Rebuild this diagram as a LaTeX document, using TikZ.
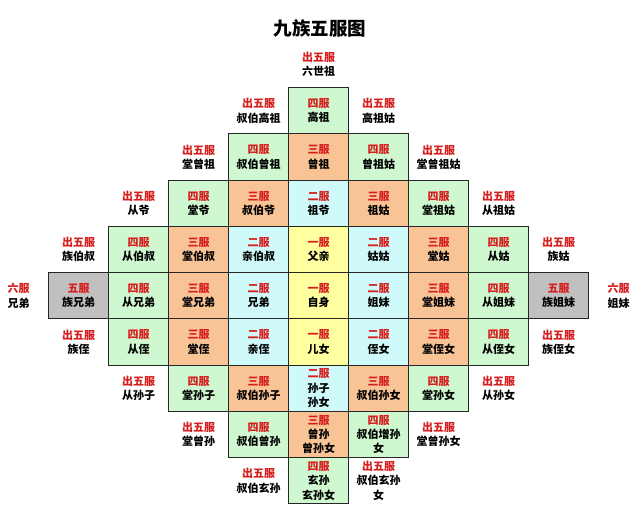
\documentclass[tikz,border=0pt]{standalone}
\usepackage{fontspec}
\newfontfamily\cjk{Noto Sans CJK SC}
\definecolor{fred}{RGB}{215,30,30}
\definecolor{cgreen}{RGB}{208,248,208}
\definecolor{corange}{RGB}{248,196,150}
\definecolor{cblue}{RGB}{208,250,250}
\definecolor{cyellow}{RGB}{255,255,160}
\definecolor{cgray}{RGB}{192,192,192}
\newcommand\cellnode[6]{\node[cell,fill=#4] (#1) at ({78.7+60*#2},{110.8+46.25*#3}) {\textcolor{fred}{#5}\\#6};}
\newcommand\freelab[5]{\node[lbl] (#1) at ({78.7+60*#2},{110.8+46.25*#3}) {\textcolor{fred}{#4}\\#5};}
\tikzset{
  cell/.style={draw=black!85, line width=1.1pt, minimum width=60pt, minimum height=46.25pt, inner sep=0pt, align=center, font=\cjk\bfseries\fontsize{11}{14.3}\selectfont},
  lbl/.style={inner sep=0pt, align=center, font=\cjk\bfseries\fontsize{11}{14.3}\selectfont},
}
\begin{document}
\begin{tikzpicture}[x=1pt,y=-1pt]
\useasboundingbox (0,0) rectangle (640,509);
\fill[white] (0,0) rectangle (640,509);
\node[inner sep=0pt, font=\cjk\bfseries\fontsize{18.5}{20}\selectfont] (title) at (320,28) {九族五服图};
% row -1
\freelab{l4m}{4}{-1}{出五服}{六世祖}
% row 0
\cellnode{c40}{4}{0}{cgreen}{四服}{高祖}
\freelab{l30}{3}{0}{出五服}{叔伯高祖}
\freelab{l50}{5}{0}{出五服}{高祖姑}
% row 1
\cellnode{c31}{3}{1}{cgreen}{四服}{叔伯曾祖}
\cellnode{c41}{4}{1}{corange}{三服}{曾祖}
\cellnode{c51}{5}{1}{cgreen}{四服}{曾祖姑}
\freelab{l21}{2}{1}{出五服}{堂曾祖}
\freelab{l61}{6}{1}{出五服}{堂曾祖姑}
% row 2
\cellnode{c22}{2}{2}{cgreen}{四服}{堂爷}
\cellnode{c32}{3}{2}{corange}{三服}{叔伯爷}
\cellnode{c42}{4}{2}{cblue}{二服}{祖爷}
\cellnode{c52}{5}{2}{corange}{三服}{祖姑}
\cellnode{c62}{6}{2}{cgreen}{四服}{堂祖姑}
\freelab{l12}{1}{2}{出五服}{从爷}
\freelab{l72}{7}{2}{出五服}{从祖姑}
% row 3
\cellnode{c13}{1}{3}{cgreen}{四服}{从伯叔}
\cellnode{c23}{2}{3}{corange}{三服}{堂伯叔}
\cellnode{c33}{3}{3}{cblue}{二服}{亲伯叔}
\cellnode{c43}{4}{3}{cyellow}{一服}{父亲}
\cellnode{c53}{5}{3}{cblue}{二服}{姑姑}
\cellnode{c63}{6}{3}{corange}{三服}{堂姑}
\cellnode{c73}{7}{3}{cgreen}{四服}{从姑}
\freelab{l03}{0}{3}{出五服}{族伯叔}
\freelab{l83}{8}{3}{出五服}{族姑}
% row 4
\cellnode{c04}{0}{4}{cgray}{五服}{族兄弟}
\cellnode{c14}{1}{4}{cgreen}{四服}{从兄弟}
\cellnode{c24}{2}{4}{corange}{三服}{堂兄弟}
\cellnode{c34}{3}{4}{cblue}{二服}{兄弟}
\cellnode{c44}{4}{4}{cyellow}{一服}{自身}
\cellnode{c54}{5}{4}{cblue}{二服}{姐妹}
\cellnode{c64}{6}{4}{corange}{三服}{堂姐妹}
\cellnode{c74}{7}{4}{cgreen}{四服}{从姐妹}
\cellnode{c84}{8}{4}{cgray}{五服}{族姐妹}
\freelab{lm4}{-1}{4}{六服}{兄弟}
\freelab{l94}{9}{4}{六服}{姐妹}
% row 5
\cellnode{c15}{1}{5}{cgreen}{四服}{从侄}
\cellnode{c25}{2}{5}{corange}{三服}{堂侄}
\cellnode{c35}{3}{5}{cblue}{二服}{亲侄}
\cellnode{c45}{4}{5}{cyellow}{一服}{儿女}
\cellnode{c55}{5}{5}{cblue}{二服}{侄女}
\cellnode{c65}{6}{5}{corange}{三服}{堂侄女}
\cellnode{c75}{7}{5}{cgreen}{四服}{从侄女}
\freelab{l05}{0}{5}{出五服}{族侄}
\freelab{l85}{8}{5}{出五服}{族侄女}
% row 6
\cellnode{c26}{2}{6}{cgreen}{四服}{堂孙子}
\cellnode{c36}{3}{6}{corange}{三服}{叔伯孙子}
\cellnode{c46}{4}{6}{cblue}{二服}{孙子\\孙女}
\cellnode{c56}{5}{6}{corange}{三服}{叔伯孙女}
\cellnode{c66}{6}{6}{cgreen}{四服}{堂孙女}
\freelab{l16}{1}{6}{出五服}{从孙子}
\freelab{l76}{7}{6}{出五服}{从孙女}
% row 7
\cellnode{c37}{3}{7}{cgreen}{四服}{叔伯曾孙}
\cellnode{c47}{4}{7}{corange}{三服}{曾孙\\曾孙女}
\cellnode{c57}{5}{7}{cgreen}{四服}{叔伯增孙\\女}
\freelab{l27}{2}{7}{出五服}{堂曾孙}
\freelab{l67}{6}{7}{出五服}{堂曾孙女}
% row 8
\cellnode{c48}{4}{8}{cgreen}{四服}{玄孙\\玄孙女}
\freelab{l38}{3}{8}{出五服}{叔伯玄孙}
\freelab{l58}{5}{8}{出五服}{叔伯玄孙\\女}
\end{tikzpicture}
\end{document}
